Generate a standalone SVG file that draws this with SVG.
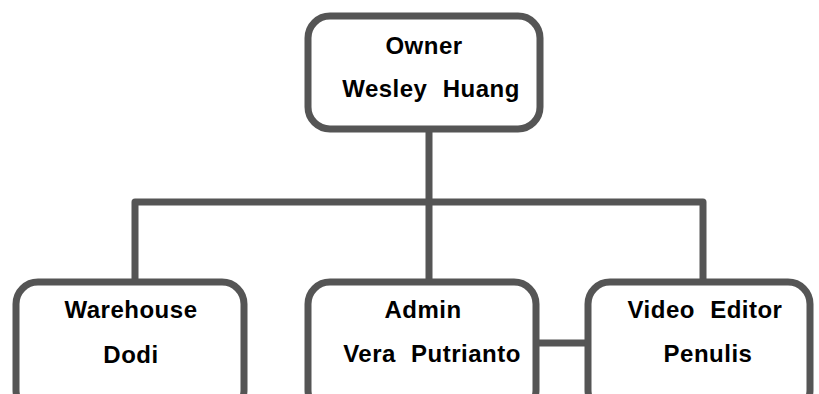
<svg xmlns="http://www.w3.org/2000/svg" width="819" height="394" viewBox="0 0 819 394">
<style>
.box{fill:#fff;stroke:#555;stroke-width:7}
.con{fill:none;stroke:#555;stroke-width:7;stroke-linejoin:round}
.t{font-family:"Liberation Sans",Arial,sans-serif;font-weight:bold;font-size:24px;fill:#000;text-anchor:middle;word-spacing:8px;letter-spacing:0.5px}
</style>
<rect width="819" height="394" fill="#fff"/>
<g id="connectors">
<path class="con" d="M429 132 V280"/>
<path class="con" d="M135 280 V202 H703 V280"/>
<path class="con" d="M538 343 H585"/>
</g>
<g id="owner">
<rect class="box" x="308" y="16" width="232" height="113" rx="22"/>
<text class="t" x="424" y="54">Owner</text>
<text class="t" x="431" y="97">Wesley Huang</text>
</g>
<g id="warehouse">
<rect class="box" x="16" y="282" width="228" height="130" rx="22"/>
<text class="t" x="131" y="318">Warehouse</text>
<text class="t" x="131" y="363">Dodi</text>
</g>
<g id="admin">
<rect class="box" x="308" y="282" width="228" height="130" rx="22"/>
<text class="t" x="423" y="318">Admin</text>
<text class="t" x="432" y="362">Vera Putrianto</text>
</g>
<g id="video-editor">
<rect class="box" x="588" y="282" width="222" height="130" rx="22"/>
<text class="t" x="705" y="318">Video Editor</text>
<text class="t" x="708" y="362">Penulis</text>
</g>
</svg>
